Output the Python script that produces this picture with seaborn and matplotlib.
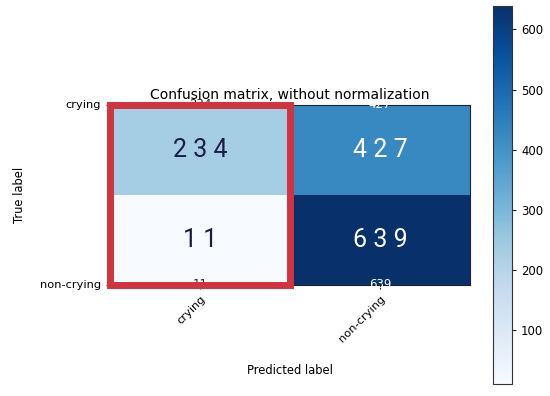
import numpy as np
import matplotlib
matplotlib.use("Agg")
import matplotlib.pyplot as plt
import matplotlib.patches as mpatches
import seaborn as sns

classes = ["crying", "non-crying"]
row_crying = [234, 427]
row_noncrying = [11, 639]
cm = np.array([row_crying, row_noncrying])

sns.set_style("white")
plt.rcParams["font.family"] = ["DejaVu Sans"]
plt.rcParams["text.color"] = "black"
plt.rcParams["xtick.color"] = "black"
plt.rcParams["ytick.color"] = "black"
plt.rcParams["axes.labelcolor"] = "black"

fig = plt.figure(figsize=(5.5, 3.96), dpi=100)
ax = fig.add_axes([110 / 550, 1 - 285 / 396, 360 / 550, 180 / 396])
cax = fig.add_axes([493 / 550, 1 - 384 / 396, 19 / 550, 378 / 396])

sns.heatmap(cm, cmap="Blues", ax=ax, cbar_ax=cax, annot=True, fmt="d",
            annot_kws={"fontsize": 8.5}, xticklabels=classes, yticklabels=classes,
            square=False)

# crop to half-cells (as in the original rendering)
ax.set_ylim(1.5, 0.5)
ax.set_xlim(0, 2)
for s in ax.spines.values():
    s.set_visible(True)
    s.set_color("#222222")
    s.set_linewidth(0.8)

ax.set_title("Confusion matrix, without normalization", fontsize=10, pad=4)
ax.set_xticks([0.5, 1.5])
ax.set_xticklabels(classes, rotation=45, ha="right", rotation_mode="anchor", fontsize=8.2)
ax.set_yticks([0.5, 1.5])
ax.set_yticklabels(classes, rotation=0, fontsize=8.2)
ax.tick_params(axis="both", length=3, width=0.8, color="#222222")
ax.tick_params(axis="x", bottom=True)
ax.tick_params(axis="y", left=True)
ax.set_ylabel("True label", fontsize=8.3, labelpad=10)
ax.set_xlabel("Predicted label", fontsize=8.3, labelpad=14)

# big overlaid numbers
thresh = cm.max() / 2
for i in range(cm.shape[0]):
    for j in range(cm.shape[1]):
        txt = " ".join(str(cm[i, j]))
        col = "white" if cm[i, j] > thresh else "#1c1c48"
        ax.text(j + 0.5, 0.75 + 0.5 * i, txt, ha="center", va="center",
                fontsize=18, color=col, family="Roboto", zorder=5)

# red highlight box
rect = mpatches.Rectangle((0.0, 0.5), 1.0, 1.0, fill=False, edgecolor="#d1343f",
                          linewidth=5, zorder=10, clip_on=False)
ax.add_patch(rect)

# colorbar
cb = ax.collections[0].colorbar
cb.set_ticks([100, 200, 300, 400, 500, 600])
cax.tick_params(labelsize=8.4, length=3, width=0.8, right=True, color="#222222")
cb.outline.set_visible(True)
cb.outline.set_edgecolor("#333333")
cb.outline.set_linewidth(0.8)

fig.savefig("out.png", dpi=100)
